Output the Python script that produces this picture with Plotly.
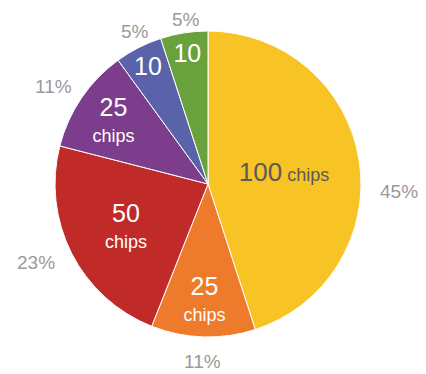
import math
import plotly.graph_objects as go

chip_counts = ["100", "25", "50", "25", "10", "10"]
chip_words = ["chips", "chips", "chips", "chips", "", ""]
shares = [45, 11, 23, 11, 5, 5]
percent_labels = ["45%", "11%", "23%", "11%", "5%", "5%"]

slice_colors = ["#F7C325", "#EE7B2B", "#C02A28", "#7C3D8C", "#5A62A9", "#69A23D"]
text_colors = ["#5a5a5a", "white", "white", "white", "white", "white"]

inside_text = []
for i, (n, w) in enumerate(zip(chip_counts, chip_words)):
    if not w:
        inside_text.append(f"<span style='font-size:25px'>{n}</span>")
    elif i == 0:
        inside_text.append(f"<span style='font-size:26px'>{n}</span><span style='font-size:18px'> {w}</span>")
    else:
        inside_text.append(f"<span style='font-size:25px'>{n}</span><br><span style='font-size:18px'>{w}</span>")

W, H = 426, 374
cx, cy, r = 208, 184, 153
dom_x = [(cx - r) / W, (cx + r) / W]
dom_y = [(H - cy - r) / H, (H - cy + r) / H]

fig = go.Figure()
fig.add_trace(go.Pie(
    values=shares,
    text=inside_text,
    texttemplate="%{text}",
    textposition="inside",
    insidetextorientation="horizontal",
    sort=False,
    direction="clockwise",
    rotation=0,
    marker=dict(colors=slice_colors, line=dict(color="white", width=1)),
    textfont=dict(family="Liberation Sans", color=text_colors, size=20),
    domain=dict(x=dom_x, y=dom_y),
    showlegend=False,
    hoverinfo="skip",
))

# outside percentage labels, placed at each slice's mid-angle
label_gap = 12
nudges = [(7, -33), (0, 0), (-4, -4), (2, -8), (2, -7), (4, -11)]  # (dx, dy) px style nudges
total = sum(shares)
cum = 0
for i, s in enumerate(shares):
    mid = (cum + s / 2) / total * 2 * math.pi
    cum += s
    sx, cy_ = math.sin(mid), math.cos(mid)
    R = r + label_gap
    px = cx + R * sx
    py = (H - cy) + R * cy_  # paper coordinates measured from bottom
    xa = "left" if sx > 0.5 else ("right" if sx < -0.5 else "center")
    ya = "bottom" if cy_ > 0.5 else ("top" if cy_ < -0.5 else "middle")
    fig.add_annotation(
        x=px / W, y=py / H, xref="paper", yref="paper",
        text=percent_labels[i], showarrow=False,
        xanchor=xa, yanchor=ya,
        xshift=nudges[i][0], yshift=nudges[i][1],
        font=dict(family="Liberation Sans", color="#9a9a9a", size=19),
    )

fig.update_layout(
    width=W, height=H,
    margin=dict(l=0, r=0, t=0, b=0),
    paper_bgcolor="white",
    plot_bgcolor="white",
)
fig.write_html("out.html", config={"displayModeBar": False},
               post_script="document.body.style.margin='0';")
